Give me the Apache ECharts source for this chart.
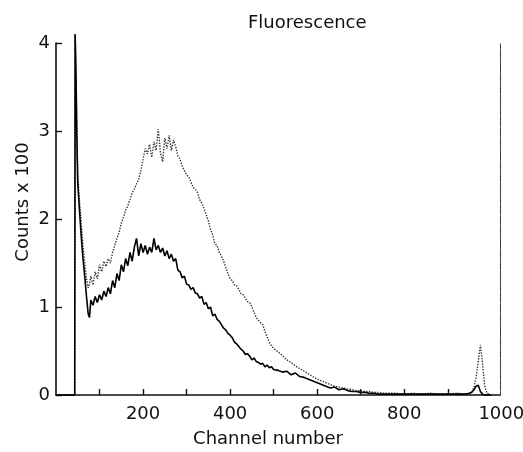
<!DOCTYPE html>
<html>
<head>
<meta charset="utf-8">
<script src="https://cdn.jsdelivr.net/npm/echarts@6/dist/echarts.min.js"></script>
<style>
html,body{margin:0;padding:0;background:#fff;}
#chart{width:523px;height:452px;}
</style>
</head>
<body>
<div id="chart"></div>
<script>
// Channel numbers (shared x values)
var channels = [0, 43, 44, 46, 48, 50, 54, 58, 62, 66, 70, 74, 77,
  80, 85, 90, 95, 100, 105, 110, 115, 120, 125, 130, 135, 140, 145, 150, 155, 160, 165, 170, 175,
  180, 185, 190, 195, 200, 205, 210, 215, 220, 225, 230, 235, 240, 245, 250, 255, 260, 265, 270, 275,
  280, 285, 290, 295, 300, 305, 310, 315, 320, 325, 330, 335, 340, 345, 350, 355, 360, 365, 370, 375,
  380, 385, 390, 395, 400, 405, 410, 415, 420, 425, 430, 435, 440, 445, 450, 455, 460, 465, 470, 475,
  480, 485, 490, 495, 500, 510, 520, 530, 540, 550, 560, 570, 580, 590, 600, 610, 620, 630, 640, 650,
  660, 670, 680, 690, 700, 710, 720, 730, 740, 750, 760, 780, 800, 820, 840, 860, 880, 900, 920, 940,
  950, 955, 960, 965, 970, 975, 980, 985, 990, 1000];

// Solid curve (counts x 100)
var solidCounts = [0, 0, 4.1, 3.6, 2.9, 2.4, 2.1, 1.8, 1.55, 1.35, 1.12, 0.92, 0.88,
  1.08, 1.02, 1.12, 1.05, 1.14, 1.08, 1.18, 1.12, 1.22, 1.15, 1.30, 1.22, 1.38, 1.30, 1.48, 1.40, 1.55, 1.47, 1.62, 1.52,
  1.68, 1.78, 1.58, 1.72, 1.62, 1.70, 1.60, 1.68, 1.62, 1.78, 1.65, 1.70, 1.62, 1.67, 1.58, 1.64, 1.55, 1.60, 1.52, 1.55,
  1.42, 1.40, 1.33, 1.35, 1.26, 1.25, 1.20, 1.22, 1.16, 1.15, 1.10, 1.12, 1.03, 1.05, 0.98, 1.00, 0.90, 0.92, 0.86, 0.84,
  0.80, 0.76, 0.74, 0.70, 0.68, 0.65, 0.60, 0.58, 0.55, 0.52, 0.50, 0.46, 0.47, 0.44, 0.40, 0.42, 0.38, 0.37, 0.35, 0.36,
  0.32, 0.34, 0.31, 0.32, 0.29, 0.28, 0.26, 0.27, 0.23, 0.25, 0.21, 0.20, 0.18, 0.16, 0.14, 0.12, 0.10, 0.08, 0.09, 0.06,
  0.07, 0.05, 0.04, 0.04, 0.03, 0.03, 0.02, 0.02, 0.01, 0.01, 0.01, 0.01, 0.01, 0.01, 0.01, 0.01, 0.01, 0.01, 0.01, 0.01,
  0.02, 0.03, 0.06, 0.10, 0.11, 0.04, 0.01, 0.0, 0.0, 0.0];

// Dotted curve (counts x 100)
var dottedCounts = [0, 0, 4.1, 3.7, 3.0, 2.5, 2.2, 1.95, 1.7, 1.5, 1.32, 1.22, 1.26,
  1.35, 1.25, 1.40, 1.32, 1.48, 1.40, 1.52, 1.46, 1.55, 1.50, 1.62, 1.70, 1.78, 1.85, 1.95, 2.02, 2.10, 2.15, 2.22, 2.30,
  2.34, 2.40, 2.45, 2.55, 2.68, 2.80, 2.74, 2.85, 2.70, 2.88, 2.78, 3.02, 2.75, 2.65, 2.92, 2.80, 2.95, 2.78, 2.90, 2.82,
  2.72, 2.68, 2.60, 2.55, 2.50, 2.48, 2.42, 2.36, 2.34, 2.30, 2.22, 2.18, 2.12, 2.05, 1.98, 1.88, 1.82, 1.72, 1.70, 1.62,
  1.58, 1.52, 1.45, 1.38, 1.32, 1.30, 1.25, 1.24, 1.20, 1.15, 1.14, 1.10, 1.06, 1.05, 1.00, 0.94, 0.88, 0.85, 0.82, 0.80,
  0.72, 0.66, 0.60, 0.56, 0.53, 0.49, 0.45, 0.40, 0.37, 0.33, 0.30, 0.27, 0.24, 0.21, 0.18, 0.16, 0.14, 0.12, 0.10, 0.09,
  0.08, 0.07, 0.06, 0.05, 0.05, 0.04, 0.04, 0.03, 0.03, 0.02, 0.02, 0.02, 0.01, 0.02, 0.01, 0.02, 0.01, 0.01, 0.02, 0.01,
  0.02, 0.03, 0.08, 0.20, 0.38, 0.57, 0.35, 0.10, 0.02, 0.0];

var xTickValues = [100, 200, 300, 400, 500, 600, 700, 800, 900];
var xLabelValues = [200, 400, 600, 800, 1000];
var yTickValues = [0, 1, 2, 3, 4];

var FONT = 'DejaVu Sans';
var INK = '#111';

function pairs(ys) {
  return channels.map(function (c, i) { return [c, ys[i]]; });
}

var chart = echarts.init(document.getElementById('chart'));
chart.setOption({
  animation: false,
  backgroundColor: '#fff',
  title: {
    text: 'Fluorescence',
    left: 243, top: 9,
    textStyle: { fontFamily: FONT, fontSize: 18, fontWeight: 'normal', color: INK }
  },
  grid: { left: 56, right: 23, top: 43, bottom: 57, containLabel: false, outerBoundsMode: 'none' },
  xAxis: {
    type: 'value', min: 0, max: 1020,
    name: 'Channel number', nameLocation: 'middle', nameGap: 35, nameMoveOverlap: false,
    nameTextStyle: { fontFamily: FONT, fontSize: 18, color: INK, padding: [0, 20, 0, 0] },
    axisLine: { show: true, lineStyle: { color: INK, width: 1.6 } },
    axisTick: { show: true, inside: true, length: 6, customValues: xTickValues, lineStyle: { color: INK, width: 1.4 } },
    axisLabel: {
      customValues: xLabelValues, margin: 10,
      fontFamily: FONT, fontSize: 18, color: INK,
      formatter: function (v) { return v === 1000 ? '{e|1000}' : String(v); },
      rich: { e: { fontFamily: FONT, fontSize: 18, color: INK, padding: [0, 0, 0, 20] } }
    },
    splitLine: { show: false }
  },
  yAxis: [{
    type: 'value', min: 0, max: 4, interval: 1,
    name: 'Counts x 100', nameLocation: 'middle', nameGap: 24, nameMoveOverlap: false,
    nameTextStyle: { fontFamily: FONT, fontSize: 18, color: INK, padding: [0, 0, 0, 34] },
    axisLine: { show: true, lineStyle: { color: INK, width: 1.6 } },
    axisTick: { show: true, inside: true, length: 6, customValues: yTickValues, lineStyle: { color: INK, width: 1.4 } },
    axisLabel: { margin: 6, fontFamily: FONT, fontSize: 18, color: INK },
    splitLine: { show: false }
  }, {
    type: 'value', min: 0, max: 4, position: 'right',
    axisLine: { show: true, lineStyle: { color: '#333', width: 1.1, type: 'dotted' } },
    axisTick: { show: false }, axisLabel: { show: false }, splitLine: { show: false }
  }],
  series: [{
    type: 'line', data: pairs(dottedCounts), showSymbol: false, clip: false,
    lineStyle: { color: '#333', width: 1.4, type: 'dotted' }
  }, {
    type: 'line', data: pairs(solidCounts), showSymbol: false, clip: false,
    lineStyle: { color: '#000', width: 1.6 }
  }]
});
</script>
</body>
</html>
